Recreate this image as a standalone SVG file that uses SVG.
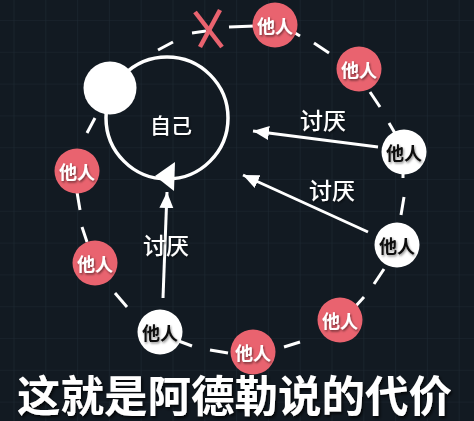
<svg xmlns="http://www.w3.org/2000/svg" width="474" height="421" viewBox="0 0 474 421">
<defs>
<pattern id="grid" x="13.5" y="20" width="31.8" height="31.8" patternUnits="userSpaceOnUse">
<path d="M0,0 H31.8 M0,0 V31.8" fill="none" stroke="#1d2832" stroke-width="1.2"/>
</pattern>
<marker id="ah" markerUnits="userSpaceOnUse" markerWidth="17" markerHeight="15" refX="16" refY="7" orient="auto">
<path d="M0,0 L16,7 L0,14 z" fill="#ffffff"/>
</marker>
<filter id="shW" x="-30%" y="-30%" width="160%" height="160%">
<feDropShadow dx="1" dy="1.5" stdDeviation="0.8" flood-color="#000" flood-opacity="0.55"/>
</filter>
<filter id="shB" x="-30%" y="-30%" width="160%" height="160%">
<feDropShadow dx="1" dy="1.5" stdDeviation="1.2" flood-color="#000" flood-opacity="0.45"/>
</filter>
<filter id="shC" x="-5%" y="-20%" width="110%" height="140%">
<feDropShadow dx="1.5" dy="2" stdDeviation="1.5" flood-color="#000" flood-opacity="0.8"/>
</filter>
</defs>
<style>
.red{fill:#e9636f}
.wht{fill:#ffffff}
.lw{font-family:"Noto Sans CJK SC",sans-serif;font-size:18px;font-weight:bold;fill:#ffffff;text-anchor:middle;dominant-baseline:central;filter:url(#shW)}
.lb{font-family:"Noto Sans CJK SC",sans-serif;font-size:18px;font-weight:bold;fill:#111111;text-anchor:middle;dominant-baseline:central;filter:url(#shB)}
.lab{font-family:"Noto Sans CJK SC",sans-serif;font-size:23px;font-weight:500;fill:#ffffff;text-anchor:middle;dominant-baseline:central;filter:url(#shW)}
.dash{stroke:#ffffff;stroke-width:3;fill:none}
.conn{stroke:#ffffff;stroke-width:3;fill:none;marker-end:url(#ah)}
</style>
<rect width="474" height="421" fill="#121a22"/>
<rect width="474" height="421" fill="url(#grid)"/>

<g id="connectors">
<g id="ring-dashes">
<line class="dash" x1="158" y1="50" x2="173" y2="42"/>
<line class="dash" x1="192" y1="33" x2="206" y2="31"/>
<line class="dash" x1="229" y1="27" x2="255" y2="26"/>
<line class="dash" x1="290" y1="30" x2="300" y2="36"/>
<line class="dash" x1="314" y1="43" x2="329" y2="53"/>
<line class="dash" x1="370" y1="92" x2="380" y2="107"/>
<line class="dash" x1="389" y1="123" x2="396" y2="135"/>
<line class="dash" x1="403" y1="166" x2="403" y2="178"/>
<line class="dash" x1="404" y1="197" x2="401" y2="215"/>
<line class="dash" x1="384" y1="269" x2="374" y2="284"/>
<line class="dash" x1="364" y1="297" x2="354" y2="308"/>
<line class="dash" x1="300" y1="342" x2="284" y2="347"/>
<line class="dash" x1="228" y1="353" x2="210" y2="350"/>
<line class="dash" x1="192" y1="346" x2="176" y2="340"/>
<line class="dash" x1="127" y1="307" x2="115" y2="293"/>
<line class="dash" x1="87" y1="242" x2="82" y2="227"/>
<line class="dash" x1="80" y1="210" x2="77" y2="192"/>
<line class="dash" x1="95" y1="118" x2="87" y2="133"/>
</g>
<line class="conn" x1="378" y1="147" x2="253" y2="131"/>
<line class="conn" x1="368" y1="232" x2="243" y2="175"/>
<line class="conn" x1="163" y1="298" x2="167" y2="192"/>
</g>

<g id="self">
<circle cx="167" cy="118" r="61" fill="none" stroke="#ffffff" stroke-width="3.5"/>
<polygon points="155,176 175,162 174,191" fill="#ffffff"/>
<text x="171" y="124" class="lab" style="font-size:21px">自己</text>
</g>
<g id="dot"><circle cx="110" cy="88" r="26.5" class="wht"/></g>
<g id="cross">
<line x1="195" y1="12" x2="222" y2="47" stroke="#e9636f" stroke-width="4.5"/>
<line x1="220" y1="10" x2="200" y2="47" stroke="#e9636f" stroke-width="4.5"/>
</g>

<g id="n1"><circle cx="275" cy="25" r="22.5" class="red"/><text x="275" y="25" class="lw">他人</text></g>
<g id="n2"><circle cx="359" cy="69" r="22.5" class="red"/><text x="359" y="69" class="lw">他人</text></g>
<g id="n3"><circle cx="404" cy="152" r="22.5" class="wht"/><text x="404" y="152" class="lb">他人</text></g>
<g id="n4"><circle cx="397" cy="245" r="22.5" class="wht"/><text x="397" y="245" class="lb">他人</text></g>
<g id="n5"><circle cx="340" cy="320" r="22.5" class="red"/><text x="340" y="320" class="lw">他人</text></g>
<g id="n6"><circle cx="253" cy="352" r="22.5" class="red"/><text x="253" y="352" class="lw">他人</text></g>
<g id="n7"><circle cx="160" cy="332" r="22.5" class="wht"/><text x="160" y="332" class="lb">他人</text></g>
<g id="n8"><circle cx="95" cy="263" r="22.5" class="red"/><text x="95" y="263" class="lw">他人</text></g>
<g id="n9"><circle cx="77" cy="171" r="22.5" class="red"/><text x="77" y="171" class="lw">他人</text></g>

<g id="labels">
<text x="323" y="118.5" class="lab">讨厌</text>
<text x="332" y="188.5" class="lab">讨厌</text>
<text x="166" y="243.5" class="lab">讨厌</text>
</g>

<g id="caption">
<text x="234.5" y="393.5" font-family="'Noto Sans CJK SC',sans-serif" font-size="43.5" font-weight="bold" fill="#ffffff" text-anchor="middle" dominant-baseline="central" filter="url(#shC)">这就是阿德勒说的代价</text>
</g>
</svg>
